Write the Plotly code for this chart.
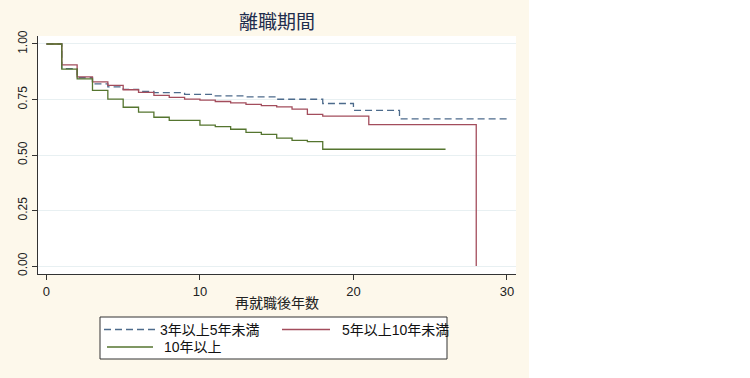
import plotly.graph_objects as go

title_text = "離職期間"
x_title = "再就職後年数"
series_names = ["3年以上5年未満", "5年以上10年未満", "10年以上"]

# Kaplan-Meier step curves (time in years, survival estimate)
t_3to5 = [0, 1, 2, 3, 4, 5, 6, 7, 9, 11, 13, 15, 18, 20, 23, 30]
s_3to5 = [1.0, 0.889, 0.848, 0.820, 0.807, 0.796, 0.787, 0.781, 0.773, 0.766,
          0.762, 0.751, 0.732, 0.701, 0.663, 0.663]

t_5to10 = [0, 1, 2, 3, 4, 5, 6, 7, 8, 9, 10, 11, 12, 13, 14, 15, 16, 17, 18, 21, 28]
s_5to10 = [1.0, 0.906, 0.852, 0.829, 0.814, 0.794, 0.782, 0.769, 0.760, 0.752,
           0.747, 0.741, 0.735, 0.728, 0.722, 0.717, 0.707, 0.683, 0.675, 0.637, 0.0]

t_10plus = [0, 1, 2, 3, 4, 5, 6, 7, 8, 10, 11, 12, 13, 14, 15, 16, 17, 18, 26]
s_10plus = [1.0, 0.887, 0.843, 0.791, 0.752, 0.715, 0.693, 0.670, 0.656, 0.635,
            0.628, 0.616, 0.602, 0.593, 0.576, 0.566, 0.560, 0.526, 0.526]

x_ticks = [0, 10, 20, 30]
y_ticks = [0.0, 0.25, 0.5, 0.75, 1.0]
y_tick_labels = ["0.00", "0.25", "0.50", "0.75", "1.00"]

colors = ["#4d6b8c", "#a34d5c", "#55752f"]
dashes = ["7px,4px", "solid", "solid"]

FONT = "Liberation Sans, Arial, Noto Sans CJK JP, sans-serif"

W, H = 750, 378
L, R, T, B = 38, 234, 36, 104
pw = W - L - R
ph = H - T - B


def px(xp):
    return (xp - L) / pw


def py(yp):
    return (T + ph - yp) / ph


fig = go.Figure()
for name, t, s, c, d in zip(series_names,
                            [t_3to5, t_5to10, t_10plus],
                            [s_3to5, s_5to10, s_10plus],
                            colors, dashes):
    fig.add_trace(go.Scatter(x=t, y=s, mode="lines", name=name, showlegend=False,
                             line=dict(color=c, width=1.3, dash=d, shape="hv")))

shapes = [
    # white area right of the graph region
    dict(type="rect", xref="paper", yref="paper",
         x0=px(529), x1=px(W) + 0.05, y0=-1, y1=2,
         fillcolor="white", line=dict(width=0), layer="below"),
    # legend box
    dict(type="rect", xref="paper", yref="paper",
         x0=px(100), x1=px(447), y0=py(359), y1=py(317),
         fillcolor="white", line=dict(color="#333333", width=1), layer="above"),
]
annotations = []

# legend entries: (line x0, line x1, text x, row y)
legend_pos = [(104, 155, 158, 329.5), (282, 330, 340, 329.5), (107, 153, 162, 347)]
for name, c, d, (lx0, lx1, tx, ry) in zip(series_names, colors, dashes, legend_pos):
    shapes.append(dict(type="line", xref="paper", yref="paper",
                       x0=px(lx0), x1=px(lx1), y0=py(ry), y1=py(ry),
                       line=dict(color=c, width=1.3, dash=d), layer="above"))
    annotations.append(dict(xref="paper", yref="paper", x=px(tx), y=py(ry),
                            xanchor="left", yanchor="middle", showarrow=False,
                            text=name, font=dict(size=14, color="#111111")))

fig.update_layout(
    width=W, height=H,
    margin=dict(l=L, r=R, t=T, b=B),
    paper_bgcolor="#fdf8eb",
    plot_bgcolor="white",
    font=dict(family=FONT, size=12, color="#222222"),
    title=dict(text=title_text, x=277 / W, xanchor="center",
               y=1 - 22 / H, yanchor="middle",
               font=dict(size=19, color="#1f2d4d")),
    showlegend=False,
    shapes=shapes,
    annotations=annotations,
)

fig.update_xaxes(
    range=[-0.55, 30.59], tickvals=x_ticks, ticks="outside", ticklen=5,
    tickcolor="#333333", showline=True, linecolor="#333333", linewidth=1,
    showgrid=False, zeroline=False, tickfont=dict(size=13), automargin=False,
    title=dict(text=x_title, font=dict(size=14), standoff=0),
)
fig.update_yaxes(
    range=[-0.036, 1.036], tickvals=y_ticks, ticktext=y_tick_labels,
    ticks="outside", ticklen=5, tickcolor="#333333", tickangle=-90,
    showline=True, linecolor="#333333", linewidth=1, automargin=False,
    showgrid=True, gridcolor="#e8f0f2", gridwidth=1, zeroline=False,
    tickfont=dict(size=12),
)

fig.write_html("out.html",
               config={"displayModeBar": False},
               post_script="document.body.style.margin='0';"
                           "document.body.style.background='white';")
